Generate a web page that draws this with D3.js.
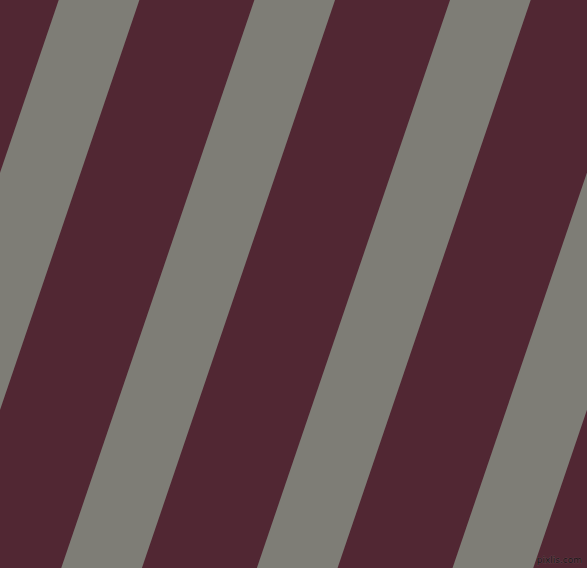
<!DOCTYPE html>
<html><head><meta charset="utf-8">
<script src="https://cdn.jsdelivr.net/npm/d3@7"></script>
<style>html,body{margin:0;padding:0;background:#512733;overflow:hidden}</style>
</head><body>
<script>
// data
const stripes = [-1, 0, 1, 2, 3];           // grey band indices
const bandColors = ["#512733", "#7e7d76"];   // background, band
const watermark = ["pixlis.com"];

const W = 587, H = 568;
const slope = 0.34;        // horizontal shift per px down
const bandWidth = 80.7;    // horizontal band width
const x = d3.scaleLinear().domain([0, 1]).range([58.7, 58.7 + 195.65]);
const y = d3.scaleLinear().domain([0, 1]).range([0, H]);

const svg = d3.select("body").append("svg").attr("width", W).attr("height", H)
  .style("display", "block");
svg.append("rect").attr("width", W).attr("height", H).attr("fill", bandColors[0]);

svg.selectAll("path.band").data(stripes).join("path")
  .attr("class", "band")
  .attr("fill", bandColors[1])
  .attr("d", d => {
    const x0 = x(d), yb = y(1), shift = slope * yb;
    return `M${x0},${y(0)}L${x0 + bandWidth},${y(0)}L${x0 + bandWidth - shift},${yb}L${x0 - shift},${yb}Z`;
  });

svg.selectAll("text.wm").data(watermark).join("text")
  .attr("class", "wm")
  .attr("x", 582).attr("y", 563)
  .attr("text-anchor", "end")
  .attr("font-family", "DejaVu Sans, sans-serif")
  .attr("font-size", 9)
  .attr("fill", "#1a1214")
  .attr("stroke", "#6a5058").attr("stroke-width", 0.6)
  .attr("paint-order", "stroke")
  .text(d => d);
</script>
</body></html>
